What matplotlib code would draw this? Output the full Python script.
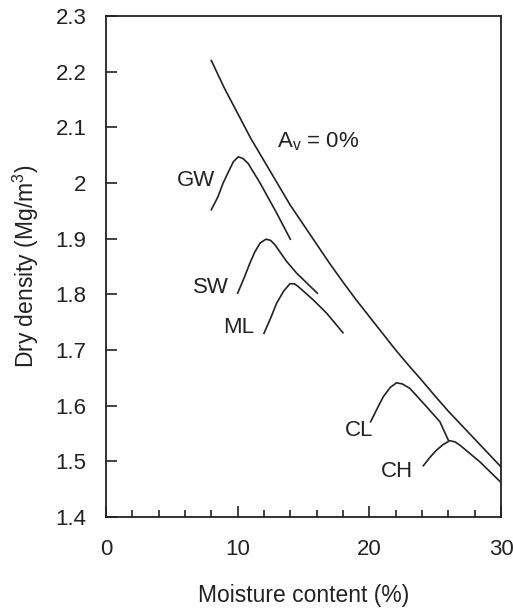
import matplotlib
matplotlib.use("Agg")
import matplotlib.pyplot as plt
from matplotlib.ticker import MultipleLocator

plt.rcParams["font.family"] = ["Liberation Sans", "DejaVu Sans"]
plt.rcParams["mathtext.fontset"] = "custom"
plt.rcParams["mathtext.rm"] = "Liberation Sans"

# zero air voids line (Av = 0%)
zav_w = [8, 9, 10, 11, 12, 13, 14, 15, 16, 17, 18, 19, 20, 21, 22, 23, 24, 25, 26, 27, 28, 29, 30]
zav_rho = [2.22, 2.17, 2.125, 2.08, 2.04, 2.0, 1.96, 1.925, 1.89, 1.855, 1.822, 1.79,
           1.76, 1.73, 1.70, 1.672, 1.645, 1.617, 1.59, 1.565, 1.54, 1.515, 1.49]

# compaction curves
gw_w = [8.0, 8.5, 8.9, 9.3, 9.67, 10.05, 10.4, 10.8, 11.7, 12.96, 14.0]
gw_rho = [1.952, 1.975, 2.0, 2.02, 2.038, 2.047, 2.044, 2.035, 2.0, 1.946, 1.899]

sw_w = [10.0, 10.5, 10.93, 11.3, 11.7, 12.15, 12.5, 12.83, 13.72, 14.48, 16.05]
sw_rho = [1.802, 1.83, 1.856, 1.876, 1.892, 1.899, 1.897, 1.889, 1.859, 1.838, 1.802]

ml_w = [12.0, 12.5, 12.96, 13.5, 13.97, 14.3, 14.6, 15.74, 16.76, 18.0]
ml_rho = [1.730, 1.757, 1.784, 1.806, 1.819, 1.819, 1.814, 1.790, 1.766, 1.731]

cl_w = [20.1, 20.6, 21.06, 21.6, 22.07, 22.5, 23.08, 24.35, 25.36, 26.0]
cl_rho = [1.571, 1.595, 1.616, 1.633, 1.641, 1.639, 1.631, 1.598, 1.571, 1.538]

ch_w = [24.1, 24.6, 25.1, 25.6, 26.1, 26.5, 26.88, 28.4, 30.0]
ch_rho = [1.492, 1.507, 1.520, 1.530, 1.537, 1.535, 1.529, 1.499, 1.462]

curve_names = ["GW", "SW", "ML", "CL", "CH"]
label_w = [8.3, 9.3, 11.25, 20.3, 23.3]
label_rho = [2.005, 1.813, 1.741, 1.556, 1.481]

fig = plt.figure(figsize=(5.13, 6.10), dpi=100)
ax = fig.add_axes([0.2066, 0.1525, 0.77, 0.8213])

lw = 1.2
ax.plot(zav_w, zav_rho, color="#222222", lw=lw)
for w, r in [(gw_w, gw_rho), (sw_w, sw_rho), (ml_w, ml_rho), (cl_w, cl_rho), (ch_w, ch_rho)]:
    ax.plot(w, r, color="#222222", lw=lw, solid_joinstyle="round")

for name, x, y in zip(curve_names, label_w, label_rho):
    ax.text(x, y, name, ha="right", va="center", fontsize=16, color="#222222")

ax.text(13.0, 2.075, r"A$_\mathregular{v}$ = 0%", ha="left", va="center",
        fontsize=16, color="#222222")

ax.set_xlim(0, 30)
ax.set_ylim(1.4, 2.3)
ax.xaxis.set_major_locator(MultipleLocator(10))
ax.xaxis.set_minor_locator(MultipleLocator(2))
ax.set_yticks([1.4, 1.5, 1.6, 1.7, 1.8, 1.9, 2.0, 2.1, 2.2, 2.3])
ax.set_yticklabels(["1.4", "1.5", "1.6", "1.7", "1.8", "1.9", "2", "2.1", "2.2", "2.3"])

ax.tick_params(axis="both", which="both", direction="in", top=False, right=False,
               colors="#222222", labelsize=16)
ax.tick_params(axis="x", which="major", length=8, width=1.2, pad=16)
ax.tick_params(axis="x", which="minor", length=5, width=1.2)
ax.tick_params(axis="y", which="major", length=8, width=1.2, pad=14)
for s in ax.spines.values():
    s.set_linewidth(1.3)
    s.set_color("#222222")

ax.set_xlabel("Moisture content (%)", fontsize=16.5, color="#222222", labelpad=17)
ax.set_ylabel(r"Dry density (Mg/m$^\mathregular{3}$)", fontsize=16.5, color="#222222")
ax.yaxis.set_label_coords(-0.165, 0.5)

fig.savefig("out.png", dpi=100)
